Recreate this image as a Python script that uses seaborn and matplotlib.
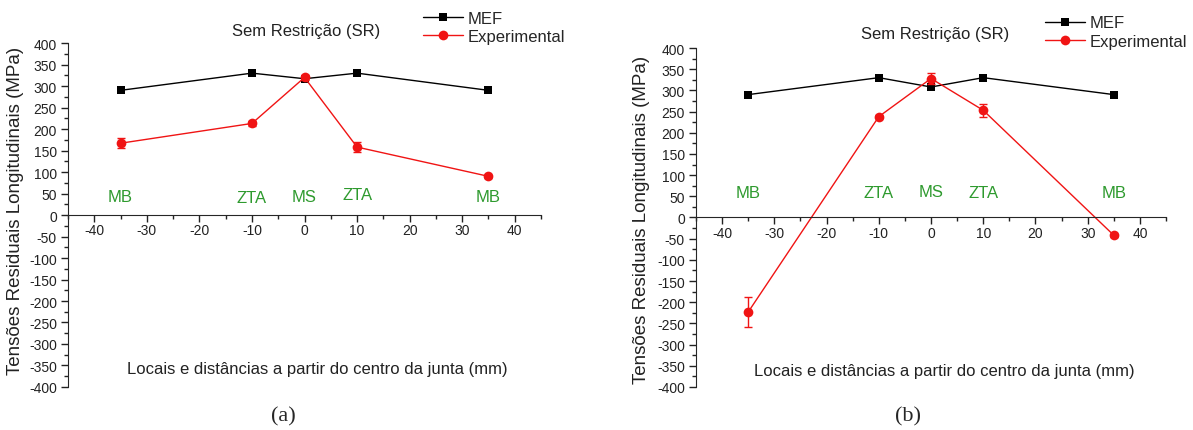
import numpy as np
import pandas as pd
import matplotlib
matplotlib.use("Agg")
import matplotlib.pyplot as plt
import seaborn as sns

sns.set_style("ticks")
plt.rcParams["font.family"] = ["Liberation Sans", "DejaVu Sans"]
plt.rcParams["axes.unicode_minus"] = False

# data
x_pos = [-35, -10, 0, 10, 35]
zones = ["MB", "ZTA", "MS", "ZTA", "MB"]

mef_a = [290, 330, 317, 330, 290]
exp_a = [167, 213, 320, 158, 90]
err_a = [12, 6, 6, 12, 4]

mef_b = [290, 330, 308, 330, 290]
exp_b = [-223, 238, 328, 253, -42]
err_b = [36, 4, 13, 15, 4]

zone_y_a = [44, 40, 44, 48, 44]
zone_y_b = [60, 60, 62, 58, 60]

red = "#f01414"
green = "#2e9a2e"

fig = plt.figure(figsize=(11.93, 4.31), dpi=100)
ax_a = fig.add_axes([0.0570, 0.0998, 0.3965, 0.798])
ax_b = fig.add_axes([0.5834, 0.0998, 0.3940, 0.7865])


def draw(ax, mef, exp, err, zone_y, cap, cap_x, title_x, title_y, leg_x, leg_y,
         ylab_x, ylab_y, xlab_y):
    df = pd.DataFrame({"x": x_pos, "MEF": mef, "Experimental": exp})
    sns.lineplot(data=df, x="x", y="MEF", ax=ax, color="black", marker="s",
                 markersize=5.5, markeredgewidth=0, linewidth=1, label="MEF")
    sns.lineplot(data=df, x="x", y="Experimental", ax=ax, color=red, marker="o",
                 markersize=7, markeredgewidth=0, linewidth=1, label="Experimental")
    ax.errorbar(x_pos, exp, yerr=err, fmt="none", ecolor=red, elinewidth=1,
                capsize=3, capthick=1)

    ax.set_xlim(-45, 45)
    ax.set_ylim(-400, 400)
    ax.spines["right"].set_visible(False)
    ax.spines["top"].set_visible(False)
    ax.spines["bottom"].set_position(("data", 0))
    ax.set_xticks(np.arange(-40, 41, 10))
    ax.set_xticks(np.arange(-45, 46, 5), minor=True)
    ax.set_yticks(np.arange(-400, 401, 50))
    ax.set_yticks(np.arange(-400, 401, 25), minor=True)
    ax.tick_params(axis="both", which="major", direction="out", length=5, width=1,
                   labelsize=10, color="#222222", labelcolor="#222222")
    ax.tick_params(axis="both", which="minor", direction="out", length=3, width=1,
                   color="#222222")
    ax.tick_params(axis="x", pad=1)
    ax.tick_params(axis="y", pad=3)
    ax.set_xlabel("")
    ax.set_ylabel("")

    for xv, yv, z in zip(x_pos, zone_y, zones):
        ax.text(xv, yv, z, color=green, fontsize=12, ha="center", va="center")

    ax.text(2.5, xlab_y, "Locais e distâncias a partir do centro da junta (mm)",
            fontsize=12, ha="center", va="center", color="#222222")

    ax.get_legend().remove()
    fig.text(title_x, title_y, "Sem Restrição (SR)", fontsize=12, ha="center",
             va="center", color="#222222")
    handles, labels = ax.get_legend_handles_labels()
    fig.legend(handles, labels, loc="upper left", bbox_to_anchor=(leg_x, leg_y),
               frameon=False, fontsize=12, handlelength=2.4, handletextpad=0.25,
               labelspacing=0.2, borderaxespad=0, borderpad=0)
    fig.text(ylab_x, ylab_y, "Tensões Residuais Longitudinais (MPa)", fontsize=13.5,
             rotation=90, ha="center", va="center", color="#222222")
    fig.text(cap_x, 0.0325, cap, fontsize=16, family=["Liberation Serif", "DejaVu Serif"],
             ha="center", va="center")


draw(ax_a, mef_a, exp_a, err_a, zone_y_a, "(a)", 0.2372, 0.2565, 0.9258,
     0.3546, 0.973, 0.0126, 0.51, -358)
draw(ax_b, mef_b, exp_b, err_b, zone_y_b, "(b)", 0.761, 0.7837, 0.9188,
     0.876, 0.962, 0.538, 0.49, -360)

fig.savefig("out.png", dpi=100)
